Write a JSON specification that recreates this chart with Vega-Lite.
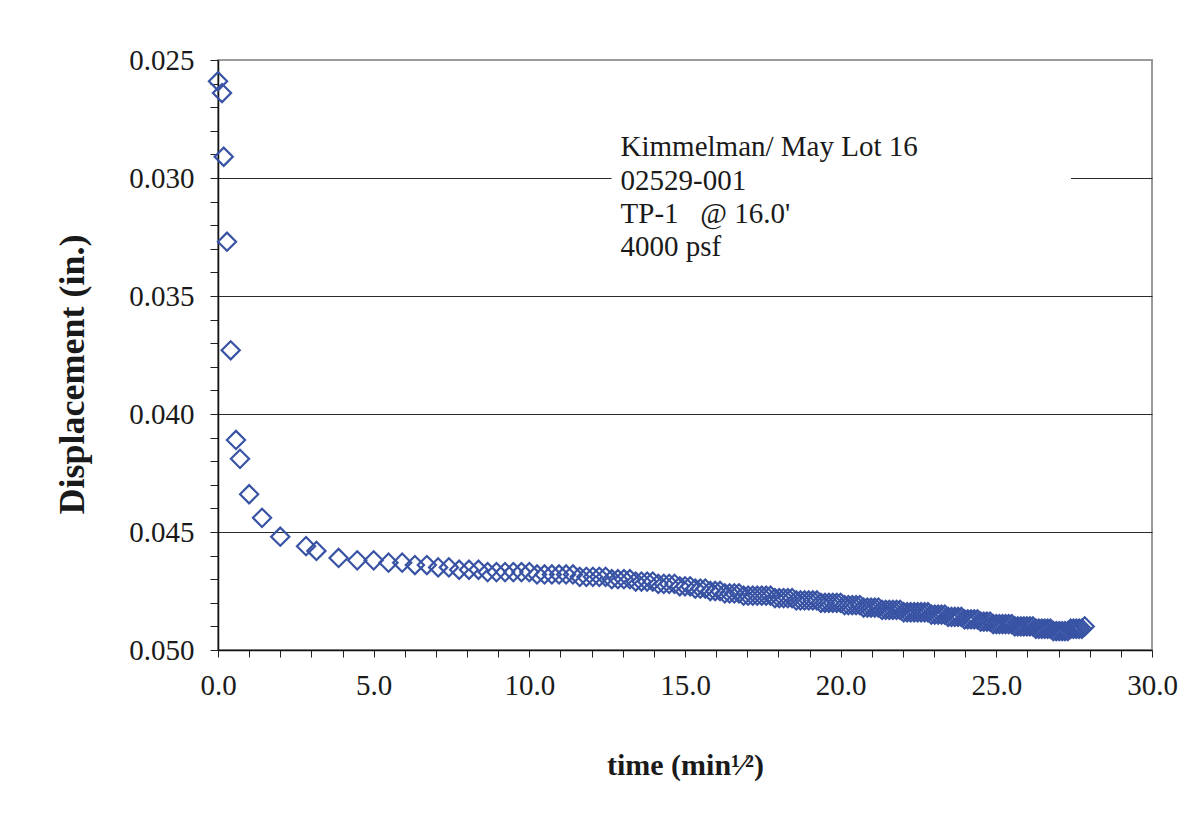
{
  "$schema": "https://vega.github.io/schema/vega-lite/v6.json",
  "autosize": {"type": "none"},
  "width": 934,
  "height": 590,
  "padding": {"left": 218, "top": 60, "right": 42, "bottom": 166},
  "background": "white",
  "config": {
    "font": "Liberation Serif",
    "view": {"stroke": "#9a9a9a", "strokeWidth": 2},
    "axis": {"labelFont": "Liberation Serif", "titleFont": "Liberation Serif"}
  },
  "encoding": {
    "x": {
      "field": "t", "type": "quantitative",
      "scale": {"domain": [0, 30], "nice": false, "zero": false},
      "axis": {
        "title": "time (min¹⁄²)",
        "values": [0, 1, 2, 3, 4, 5, 6, 7, 8, 9, 10, 11, 12, 13, 14, 15, 16, 17, 18, 19, 20, 21, 22, 23, 24, 25, 26, 27, 28, 29, 30],
        "labelExpr": "datum.value % 5 == 0 ? format(datum.value, '.1f') : ''",
        "labelOverlap": false,
        "labelFlush": false,
        "labelFontSize": 29,
        "labelColor": "#1a1a1a",
        "labelPadding": 14,
        "tickSize": 7,
        "tickColor": "#222",
        "tickWidth": 1,
        "domainColor": "#111",
        "domainWidth": 1.5,
        "grid": false,
        "titleFontSize": 30,
        "titleFontWeight": "bold",
        "titleColor": "#1a1a1a",
        "titlePadding": 50
      }
    },
    "y": {
      "field": "d", "type": "quantitative",
      "scale": {"domain": [0.025, 0.05], "reverse": true, "nice": false, "zero": false},
      "axis": {
        "title": "Displacement (in.)",
        "values": [0.025, 0.026, 0.027, 0.028, 0.029, 0.03, 0.031, 0.032, 0.033, 0.034, 0.035, 0.036, 0.037, 0.038, 0.039, 0.04, 0.041, 0.042, 0.043, 0.044, 0.045, 0.046, 0.047, 0.048, 0.049, 0.05],
        "labelExpr": "round(datum.value * 1000) % 5 == 0 ? format(datum.value, '.3f') : ''",
        "labelOverlap": false,
        "labelFlush": false,
        "labelFontSize": 29,
        "labelColor": "#1a1a1a",
        "labelPadding": 16,
        "tickSize": 8,
        "tickColor": "#222",
        "tickWidth": 1,
        "domainColor": "#111",
        "domainWidth": 1.5,
        "grid": true,
        "gridWidth": 1,
        "gridColor": {"condition": {"test": "round(datum.value * 1000) % 5 == 0 && round(datum.value * 1000) > 25 && round(datum.value * 1000) < 50", "value": "#2a2a2a"}, "value": "transparent"},
        "titleFontSize": 36,
        "titleFontWeight": "bold",
        "titleColor": "#1a1a1a",
        "titlePadding": 37,
        "titleY": 314
      }
    }
  },
  "layer": [
    {
      "data": {"values": [{"t": 12.64, "t2": 27.4, "d": 0.027, "d2": 0.034}]},
      "mark": {"type": "rect", "fill": "white"},
      "encoding": {
        "x2": {"field": "t2"},
        "y2": {"field": "d2"}
      }
    },
    {
      "data": {"values": [
        {"t": 0, "d": 0.0259},
        {"t": 0.129, "d": 0.0264},
        {"t": 0.183, "d": 0.0291},
        {"t": 0.289, "d": 0.0327},
        {"t": 0.408, "d": 0.0373},
        {"t": 0.577, "d": 0.0411},
        {"t": 0.707, "d": 0.0419},
        {"t": 1.0, "d": 0.0434},
        {"t": 1.414, "d": 0.0444},
        {"t": 2.0, "d": 0.0452},
        {"t": 2.828, "d": 0.0456},
        {"t": 3.162, "d": 0.0458},
        {"t": 3.873, "d": 0.0461},
        {"t": 4.472, "d": 0.0462},
        {"t": 5.0, "d": 0.0462},
        {"t": 5.477, "d": 0.0463},
        {"t": 5.916, "d": 0.0463},
        {"t": 6.325, "d": 0.0464},
        {"t": 6.708, "d": 0.0464},
        {"t": 7.071, "d": 0.0465},
        {"t": 7.416, "d": 0.0465},
        {"t": 7.746, "d": 0.0466},
        {"t": 8.062, "d": 0.0466},
        {"t": 8.367, "d": 0.0466},
        {"t": 8.66, "d": 0.0467},
        {"t": 8.944, "d": 0.0467},
        {"t": 9.22, "d": 0.0467},
        {"t": 9.487, "d": 0.0467},
        {"t": 9.747, "d": 0.0467},
        {"t": 10.0, "d": 0.0467},
        {"t": 10.247, "d": 0.0468},
        {"t": 10.488, "d": 0.0468},
        {"t": 10.724, "d": 0.0468},
        {"t": 10.954, "d": 0.0468},
        {"t": 11.18, "d": 0.0468},
        {"t": 11.402, "d": 0.0468},
        {"t": 11.619, "d": 0.0469},
        {"t": 11.832, "d": 0.0469},
        {"t": 12.042, "d": 0.0469},
        {"t": 12.247, "d": 0.0469},
        {"t": 12.45, "d": 0.0469},
        {"t": 12.649, "d": 0.047},
        {"t": 12.845, "d": 0.047},
        {"t": 13.038, "d": 0.047},
        {"t": 13.229, "d": 0.047},
        {"t": 13.416, "d": 0.0471},
        {"t": 13.601, "d": 0.0471},
        {"t": 13.784, "d": 0.0471},
        {"t": 13.964, "d": 0.0471},
        {"t": 14.142, "d": 0.0472},
        {"t": 14.318, "d": 0.0472},
        {"t": 14.491, "d": 0.0472},
        {"t": 14.663, "d": 0.0472},
        {"t": 14.832, "d": 0.0473},
        {"t": 15.0, "d": 0.0473},
        {"t": 15.166, "d": 0.0473},
        {"t": 15.33, "d": 0.0474},
        {"t": 15.492, "d": 0.0474},
        {"t": 15.652, "d": 0.0474},
        {"t": 15.811, "d": 0.0475},
        {"t": 15.969, "d": 0.0475},
        {"t": 16.125, "d": 0.0475},
        {"t": 16.279, "d": 0.0476},
        {"t": 16.432, "d": 0.0476},
        {"t": 16.583, "d": 0.0476},
        {"t": 16.733, "d": 0.0476},
        {"t": 16.882, "d": 0.0477},
        {"t": 17.029, "d": 0.0477},
        {"t": 17.176, "d": 0.0477},
        {"t": 17.321, "d": 0.0477},
        {"t": 17.464, "d": 0.0477},
        {"t": 17.607, "d": 0.0477},
        {"t": 17.748, "d": 0.0477},
        {"t": 17.889, "d": 0.0478},
        {"t": 18.028, "d": 0.0478},
        {"t": 18.166, "d": 0.0478},
        {"t": 18.303, "d": 0.0478},
        {"t": 18.439, "d": 0.0478},
        {"t": 18.574, "d": 0.0479},
        {"t": 18.708, "d": 0.0479},
        {"t": 18.841, "d": 0.0479},
        {"t": 18.974, "d": 0.0479},
        {"t": 19.105, "d": 0.0479},
        {"t": 19.235, "d": 0.0479},
        {"t": 19.365, "d": 0.048},
        {"t": 19.494, "d": 0.048},
        {"t": 19.621, "d": 0.048},
        {"t": 19.748, "d": 0.048},
        {"t": 19.875, "d": 0.048},
        {"t": 20.0, "d": 0.048},
        {"t": 20.125, "d": 0.0481},
        {"t": 20.248, "d": 0.0481},
        {"t": 20.372, "d": 0.0481},
        {"t": 20.494, "d": 0.0481},
        {"t": 20.616, "d": 0.0481},
        {"t": 20.736, "d": 0.0482},
        {"t": 20.857, "d": 0.0482},
        {"t": 20.976, "d": 0.0482},
        {"t": 21.095, "d": 0.0482},
        {"t": 21.213, "d": 0.0482},
        {"t": 21.331, "d": 0.0483},
        {"t": 21.448, "d": 0.0483},
        {"t": 21.564, "d": 0.0483},
        {"t": 21.679, "d": 0.0483},
        {"t": 21.794, "d": 0.0483},
        {"t": 21.909, "d": 0.0483},
        {"t": 22.023, "d": 0.0484},
        {"t": 22.136, "d": 0.0484},
        {"t": 22.249, "d": 0.0484},
        {"t": 22.361, "d": 0.0484},
        {"t": 22.472, "d": 0.0484},
        {"t": 22.583, "d": 0.0484},
        {"t": 22.694, "d": 0.0484},
        {"t": 22.804, "d": 0.0484},
        {"t": 22.913, "d": 0.0485},
        {"t": 23.022, "d": 0.0485},
        {"t": 23.13, "d": 0.0485},
        {"t": 23.238, "d": 0.0485},
        {"t": 23.345, "d": 0.0485},
        {"t": 23.452, "d": 0.0486},
        {"t": 23.558, "d": 0.0486},
        {"t": 23.664, "d": 0.0486},
        {"t": 23.77, "d": 0.0486},
        {"t": 23.875, "d": 0.0486},
        {"t": 23.979, "d": 0.0487},
        {"t": 24.083, "d": 0.0487},
        {"t": 24.187, "d": 0.0487},
        {"t": 24.29, "d": 0.0487},
        {"t": 24.393, "d": 0.0487},
        {"t": 24.495, "d": 0.0488},
        {"t": 24.597, "d": 0.0488},
        {"t": 24.698, "d": 0.0488},
        {"t": 24.799, "d": 0.0488},
        {"t": 24.9, "d": 0.0489},
        {"t": 25.0, "d": 0.0489},
        {"t": 25.1, "d": 0.0489},
        {"t": 25.199, "d": 0.0489},
        {"t": 25.298, "d": 0.0489},
        {"t": 25.397, "d": 0.0489},
        {"t": 25.495, "d": 0.0489},
        {"t": 25.593, "d": 0.049},
        {"t": 25.69, "d": 0.049},
        {"t": 25.788, "d": 0.049},
        {"t": 25.884, "d": 0.049},
        {"t": 25.981, "d": 0.049},
        {"t": 26.077, "d": 0.049},
        {"t": 26.173, "d": 0.049},
        {"t": 26.268, "d": 0.0491},
        {"t": 26.363, "d": 0.0491},
        {"t": 26.458, "d": 0.0491},
        {"t": 26.552, "d": 0.0491},
        {"t": 26.646, "d": 0.0491},
        {"t": 26.739, "d": 0.0491},
        {"t": 26.833, "d": 0.0492},
        {"t": 26.926, "d": 0.0492},
        {"t": 27.019, "d": 0.0492},
        {"t": 27.111, "d": 0.0492},
        {"t": 27.203, "d": 0.0492},
        {"t": 27.295, "d": 0.0492},
        {"t": 27.386, "d": 0.0491},
        {"t": 27.477, "d": 0.0491},
        {"t": 27.568, "d": 0.0491},
        {"t": 27.659, "d": 0.0491},
        {"t": 27.749, "d": 0.0491},
        {"t": 27.839, "d": 0.049}
      ]},
      "mark": {"type": "point", "shape": "diamond", "filled": false, "size": 330, "strokeWidth": 2.2, "color": "#3953a4", "opacity": 1, "clip": false}
    },
    {
      "data": {"values": [
        {"t": 12.93, "d": 0.02907, "label": "Kimmelman/ May Lot 16"},
        {"t": 12.93, "d": 0.03051, "label": "02529-001"},
        {"t": 12.93, "d": 0.03191, "label": "TP-1\u00a0\u00a0\u00a0@ 16.0'"},
        {"t": 12.93, "d": 0.03331, "label": "4000 psf"}
      ]},
      "mark": {"type": "text", "align": "left", "baseline": "alphabetic", "fontSize": 29, "color": "#1a1a1a", "font": "Liberation Serif"},
      "encoding": {
        "text": {"field": "label"}
      }
    }
  ]
}
